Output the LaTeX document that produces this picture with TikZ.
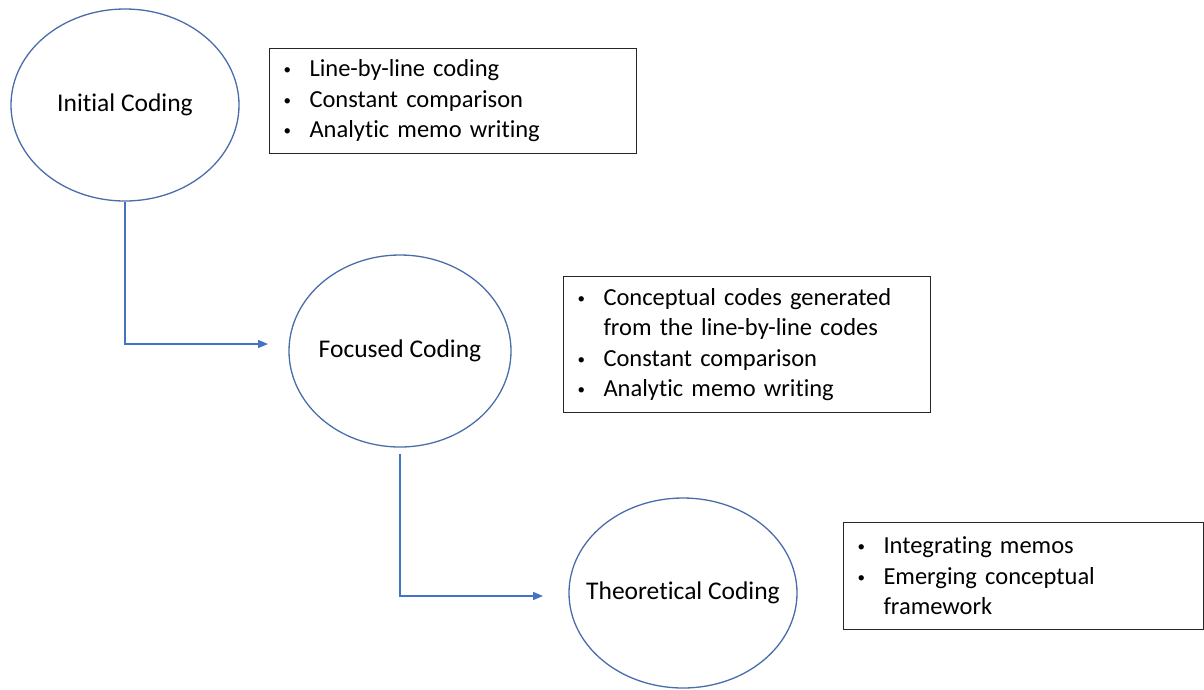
\documentclass[tikz,border=0pt]{standalone}
\usepackage{fontspec}
\setmainfont{Carlito}[Ligatures=NoCommon]
\usetikzlibrary{positioning}
\usetikzlibrary{shapes.geometric}
\usetikzlibrary{arrows.meta}
\definecolor{ringblue}{RGB}{74,108,170}
\definecolor{flowblue}{RGB}{68,114,196}
\newcommand{\bitem}{\makebox[28pt][l]{\hspace{2pt}\raisebox{2pt}{\fontsize{15}{15}\selectfont\textbullet}}}
\newcommand{\bcont}{\hspace*{28pt}}

\begin{document}
\begin{tikzpicture}[x=1pt, y=-1pt, line width=1.3pt,
        stage/.style={ellipse, draw=ringblue, minimum width=228pt,
            minimum height=192pt, inner sep=-25pt,
            font=\fontsize{25.5}{30.5}\selectfont},
        notes/.style={draw=black!85, line width=1pt, anchor=north west,
            align=left, inner xsep=12pt, inner ysep=0pt},
        flow/.style={draw=flowblue, -{Triangle[length=10pt,width=8pt]}},
        font=\fontsize{24.5}{30.5}\selectfont]
    \useasboundingbox (0,0) rectangle (1204,689);

    \node [stage] (initial) at (125,105) {Initial Coding};
    \node [stage, minimum width=222pt] (focused) at (400,351) {Focused Coding};
    \node [stage, minimum height=190pt] (theory) at (683,593) {Theoretical Coding};

    \node [notes, text width=343pt, minimum height=105pt] (initnotes) at (269,48)
        {\bitem Line-by-line coding\\ \bitem Constant comparison\\
         \bitem Analytic memo writing};
    \node [notes, text width=343pt, minimum height=136pt] (focnotes) at (563,276)
        {\bitem Conceptual codes generated\\ \bcont from the line-by-line codes\\
         \bitem Constant comparison\\ \bitem Analytic memo writing};
    \node [notes, text width=336pt, minimum height=107pt] (theonotes) at (843,522)
        {\bitem Integrating memos\\ \bitem Emerging conceptual\\
         \bcont framework};

    \coordinate (focin) at (268,344);
    \coordinate (theoin) at (543,596);

    \draw [flow] (initial.south) |- (focin);
    \draw [flow, shorten <=6pt] (focused.south) |- (theoin);
\end{tikzpicture}
\end{document}
